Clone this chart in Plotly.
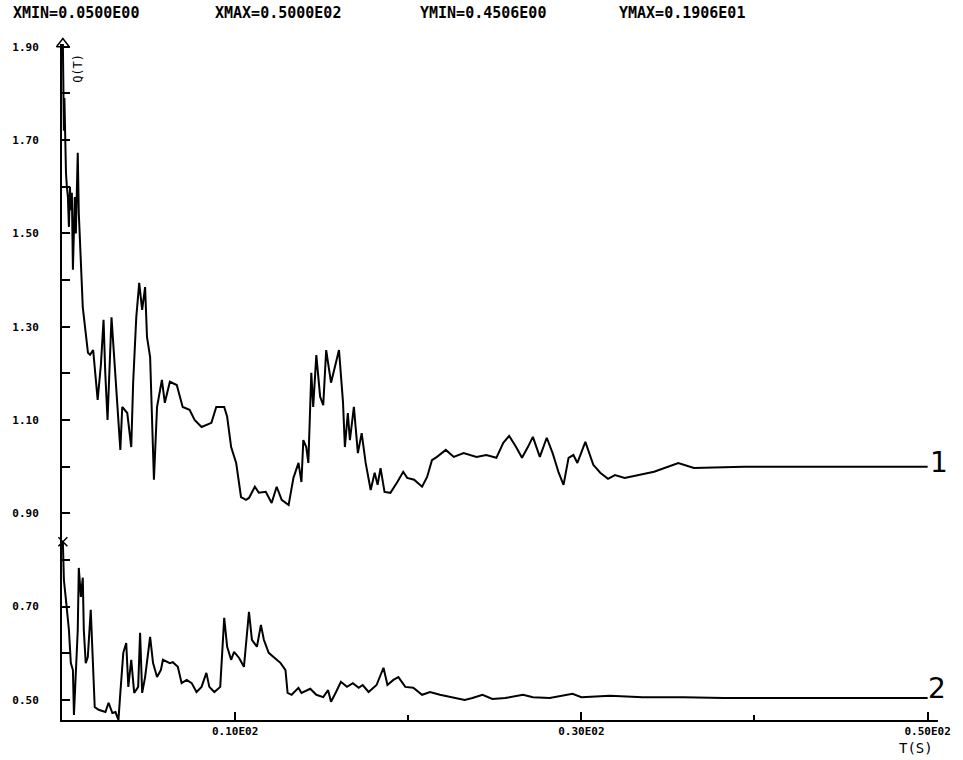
import plotly.graph_objects as go

# Curve 1
t1 = [0.05, 0.07, 0.09, 0.11, 0.14, 0.18, 0.23, 0.28, 0.34, 0.40, 0.46, 0.51, 0.57, 0.63, 0.69, 0.74,
      0.80, 0.86, 0.91, 0.97, 1.09, 1.20, 1.50, 1.62, 1.80, 2.06, 2.25, 2.40, 2.50, 2.63, 2.86, 3.08,
      3.37, 3.48, 3.77, 4.00, 4.11, 4.29, 4.46, 4.63, 4.80, 4.91, 5.09, 5.31, 5.49, 5.77, 5.94, 6.23,
      6.63, 6.97, 7.37, 7.66, 8.06, 8.63, 8.91, 9.37, 9.54, 9.77, 10.06, 10.34, 10.63, 10.80, 11.14,
      11.37, 11.77, 12.11, 12.40, 12.69, 13.09, 13.37, 13.66, 13.83, 13.94, 14.11, 14.23, 14.40, 14.51,
      14.69, 14.91, 15.09, 15.26, 15.54, 15.77, 16.00, 16.23, 16.34, 16.51, 16.63, 16.86, 17.09, 17.31,
      17.54, 17.83, 18.06, 18.23, 18.40, 18.63, 18.97, 19.37, 19.71, 19.94, 20.34, 20.80, 21.09, 21.37,
      21.66, 22.17, 22.63, 23.20, 23.94, 24.51, 25.09, 25.49, 25.83, 26.23, 26.57, 26.91, 27.20, 27.60,
      28.00, 28.34, 28.69, 28.97, 29.26, 29.54, 29.77, 30.23, 30.69, 31.09, 31.54, 31.94, 32.50, 34.20,
      35.60, 36.50, 39.40, 50.00]
q1 = [1.906, 1.79, 1.87, 1.72, 1.79, 1.66, 1.63, 1.60, 1.578, 1.514, 1.60, 1.55, 1.587, 1.422, 1.56, 1.578,
      1.50, 1.62, 1.673, 1.544, 1.415, 1.342, 1.244, 1.24, 1.25, 1.143, 1.22, 1.315, 1.20, 1.10, 1.32, 1.207,
      1.036, 1.128, 1.115, 1.042, 1.18, 1.32, 1.394, 1.336, 1.385, 1.278, 1.235, 0.972, 1.128, 1.186, 1.137, 1.182,
      1.175, 1.128, 1.122, 1.10, 1.085, 1.094, 1.128, 1.128, 1.107, 1.042, 1.008, 0.935, 0.929, 0.933, 0.957,
      0.944, 0.946, 0.922, 0.957, 0.929, 0.918, 0.976, 1.008, 0.967, 1.057, 1.042, 1.008, 1.201, 1.128,
      1.239, 1.15, 1.132, 1.25, 1.18, 1.214, 1.25, 1.139, 1.042, 1.115, 1.057, 1.128, 1.029, 1.072,
      1.008, 0.95, 0.987, 0.961, 0.997, 0.946, 0.944, 0.967, 0.989, 0.976, 0.972, 0.957, 0.978, 1.014,
      1.021, 1.036, 1.021, 1.029, 1.021, 1.025, 1.019, 1.051, 1.066, 1.042, 1.019, 1.042, 1.064, 1.021,
      1.062, 1.029, 0.987, 0.961, 1.019, 1.025, 1.008, 1.053, 1.004, 0.987, 0.974, 0.982, 0.976, 0.989,
      1.008, 0.997, 1.0, 1.0]

# Curve 2
t2 = [0.05, 0.11, 0.23, 0.40, 0.51, 0.63, 0.69, 0.80, 0.91, 0.97, 1.09, 1.20, 1.26, 1.37, 1.49, 1.66,
      1.77, 1.89, 2.11, 2.51, 2.69, 2.91, 3.09, 3.26, 3.37, 3.54, 3.71, 3.83, 4.00, 4.17, 4.40, 4.51,
      4.63, 4.80, 5.09, 5.26, 5.49, 5.71, 5.83, 6.23, 6.40, 6.69, 6.91, 7.20, 7.49, 7.77, 8.06, 8.34,
      8.51, 8.80, 9.14, 9.37, 9.54, 9.77, 9.94, 10.23, 10.51, 10.69, 10.80, 10.97, 11.26, 11.49, 11.66,
      11.94, 12.23, 12.63, 12.91, 13.03, 13.26, 13.66, 13.83, 14.34, 14.69, 15.09, 15.37, 15.54, 15.83,
      16.11, 16.46, 16.80, 17.14, 17.37, 17.71, 18.17, 18.57, 18.80, 19.14, 19.43, 19.83, 20.29, 20.80,
      21.26, 21.83, 22.51, 23.26, 23.71, 24.29, 24.86, 25.60, 26.63, 27.20, 28.17, 29.49, 30.00, 31.66,
      33.54, 35.89, 38.23, 42.91, 50.00]
q2 = [0.839, 0.757, 0.714, 0.65, 0.579, 0.564, 0.468, 0.564, 0.65, 0.783, 0.721, 0.762, 0.65, 0.579, 0.592, 0.693,
      0.579, 0.485, 0.479, 0.474, 0.494, 0.472, 0.474, 0.457, 0.515, 0.601, 0.622, 0.528, 0.586, 0.515, 0.528, 0.644,
      0.515, 0.549, 0.635, 0.579, 0.549, 0.564, 0.586, 0.579, 0.581, 0.571, 0.536, 0.543, 0.536, 0.517, 0.528, 0.558,
      0.528, 0.517, 0.528, 0.676, 0.614, 0.586, 0.603, 0.59, 0.571, 0.635, 0.689, 0.629, 0.614, 0.661, 0.629,
      0.601, 0.592, 0.579, 0.564, 0.515, 0.511, 0.526, 0.515, 0.524, 0.511, 0.506, 0.521, 0.496, 0.517,
      0.539, 0.528, 0.536, 0.526, 0.532, 0.517, 0.532, 0.569, 0.532, 0.543, 0.549, 0.528, 0.526, 0.511,
      0.517, 0.511, 0.506, 0.50, 0.504, 0.511, 0.502, 0.504, 0.511, 0.506, 0.504, 0.513, 0.506, 0.509,
      0.506, 0.506, 0.504, 0.504, 0.504]

y_tickvals = [0.5, 0.7, 0.9, 1.1, 1.3, 1.5, 1.7, 1.9]
y_ticktext = ["0.50", "0.70", "0.90", "1.10", "1.30", "1.50", "1.70", "1.90"]
y_minor = [0.6, 0.8, 1.0, 1.2, 1.4, 1.6, 1.8]
x_tickvals = [10, 30, 50]
x_ticktext = ["0.10E02", "0.30E02", "0.50E02"]
x_minor = [20, 40]
header = ["XMIN=0.0500E00", "XMAX=0.5000E02", "YMIN=0.4506E00", "YMAX=0.1906E01"]
header_x = [10, 213, 420, 620]

MONO = "DejaVu Sans Mono"
W, H = 963, 760
pl, pr, pt, pb = 61, 19, 44, 40
pw, ph = W - pl - pr, H - pt - pb

fig = go.Figure()
fig.add_trace(go.Scatter(x=t1, y=q1, mode="lines", line=dict(color="black", width=2), showlegend=False))
fig.add_trace(go.Scatter(x=t2, y=q2, mode="lines", line=dict(color="black", width=2), showlegend=False))
fig.add_trace(go.Scatter(x=[t1[0]], y=[q1[0]], mode="markers", cliponaxis=False,
                         marker=dict(symbol="triangle-up-open", size=11, color="black", line=dict(width=1.5)),
                         showlegend=False))
fig.add_trace(go.Scatter(x=[t2[0]], y=[q2[0]], mode="markers", cliponaxis=False,
                         marker=dict(symbol="x-thin-open", size=9, color="black", line=dict(width=1.5)),
                         showlegend=False))

fig.update_layout(
    width=W, height=H, autosize=False,
    paper_bgcolor="white", plot_bgcolor="white",
    margin=dict(l=pl, r=pr, t=pt, b=pb),
    font=dict(family=MONO, color="black", size=11),
    xaxis=dict(range=[0, 50.6], showgrid=False, zeroline=False, showline=True, linecolor="black",
               linewidth=2, ticks="inside", ticklen=8, tickwidth=1.5, tickcolor="black",
               tickvals=x_tickvals, ticktext=x_ticktext,
               tickfont=dict(family=MONO, size=11, weight="bold"),
               minor=dict(tickvals=x_minor, ticks="inside", ticklen=5, tickwidth=1.5, tickcolor="black")),
    yaxis=dict(range=[0.457, 1.906], showgrid=False, zeroline=False, showline=True, linecolor="black",
               linewidth=2, ticks="inside", ticklen=8, tickwidth=1.5, tickcolor="black",
               tickvals=y_tickvals, ticktext=y_ticktext,
               tickfont=dict(family=MONO, size=11, weight="bold"),
               ticklabelstandoff=19,
               minor=dict(tickvals=y_minor, ticks="inside", ticklen=8,
                          tickwidth=1.5, tickcolor="black")),
)

for txt, hx in zip(header, header_x):
    fig.add_annotation(text=txt, x=(hx - pl) / pw, y=1 + (pt - 13) / ph, xref="paper", yref="paper",
                       showarrow=False, xanchor="left", yanchor="middle",
                       font=dict(family=MONO, size=15, weight="bold"))

fig.add_annotation(text="Q(T)", x=(77 - pl) / pw, y=1 - (68 - pt) / ph, xref="paper", yref="paper",
                   showarrow=False, textangle=-90, xanchor="center", yanchor="middle",
                   font=dict(family=MONO, size=12))
fig.add_annotation(text="1", x=(934 - pl) / pw, y=q1[-1] + 0.01, xref="paper", yref="y", showarrow=False,
                   xanchor="left", yanchor="middle", font=dict(family="DejaVu Sans", size=28))
fig.add_annotation(text="2", x=(932 - pl) / pw, y=q2[-1] + 0.02, xref="paper", yref="y", showarrow=False,
                   xanchor="left", yanchor="middle", font=dict(family="DejaVu Sans", size=28))
fig.add_annotation(text="T(S)", x=(922 - pl) / pw, y=-(748 - (H - pb)) / ph, xref="paper", yref="paper",
                   showarrow=False, xanchor="center", yanchor="middle", font=dict(family=MONO, size=14))

fig.write_html("out.html", config={"displayModeBar": False},
               post_script="document.body.style.margin='0px';document.body.style.overflow='hidden';")
